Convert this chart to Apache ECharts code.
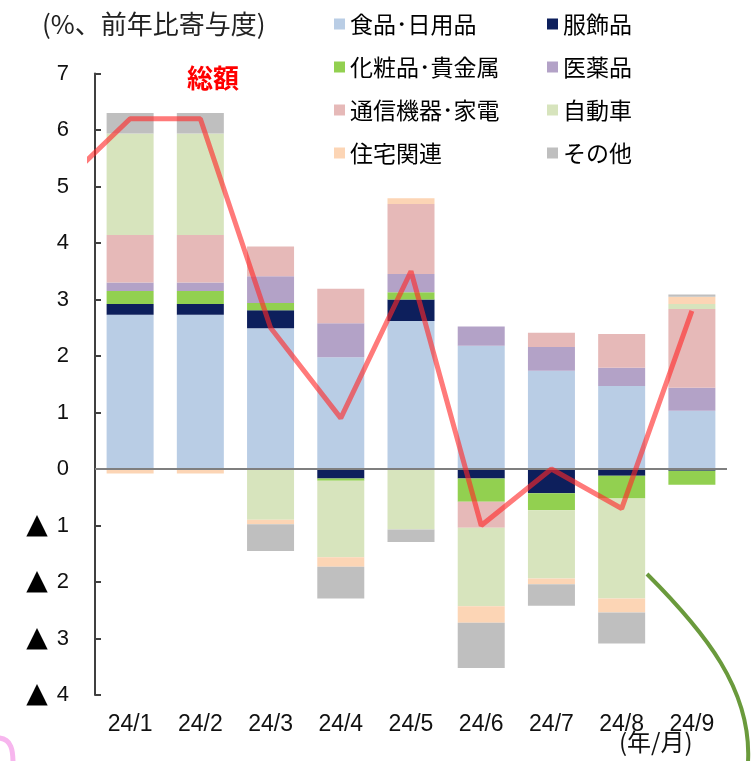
<!DOCTYPE html>
<html><head><meta charset="utf-8">
<script src="https://cdn.jsdelivr.net/npm/echarts@6/dist/echarts.min.js"></script>
<style>html,body{margin:0;padding:0;background:#fff}#c{width:756px;height:761px}</style>
</head><body><div id="c"></div>
<script>
// ---- data (percentage-point contributions, YoY) ----
const categories = ['24/1','24/2','24/3','24/4','24/5','24/6','24/7','24/8','24/9'];
const food      = [2.73, 2.73, 2.49, 1.98, 2.62, 2.18, 1.74, 1.47, 1.03];
const apparel   = [0.19, 0.19, 0.32, -0.17, 0.38, -0.17, -0.43, -0.12, -0.03];
const cosmetics = [0.23, 0.23, 0.13, -0.04, 0.13, -0.41, -0.30, -0.40, -0.25];
const medicine  = [0.15, 0.15, 0.47, 0.60, 0.32, 0.34, 0.42, 0.32, 0.41];
const telecom   = [0.84, 0.84, 0.53, 0.61, 1.24, -0.46, 0.25, 0.60, 1.39];
const autos     = [1.80, 1.80, -0.90, -1.35, -1.07, -1.39, -1.21, -1.77, 0.09];
const housing   = [-0.08, -0.08, -0.08, -0.17, 0.10, -0.29, -0.10, -0.25, 0.13];
const other     = [0.36, 0.36, -0.47, -0.56, -0.22, -0.80, -0.38, -0.55, 0.04];
const total     = [6.2, 6.2, 2.5, 0.9, 3.5, -1.0, 0.0, -0.7, 2.8];
const prevTotal = 5.0; // 23/12 (line enters from the left edge)
const seriesNames = ['食品･日用品','服飾品','化粧品･貴金属','医薬品','通信機器･家電','自動車','住宅関連','その他'];
const yMin = -4, yMax = 7, yStep = 1;

const colors = ['#B9CDE5','#0D1F5C','#92D050','#B3A2C7','#E6B9B8','#D7E4BD','#FCD5B5','#BFBFBF'];
const values = [food, apparel, cosmetics, medicine, telecom, autos, housing, other];

const chart = echarts.init(document.getElementById('c'), null, {renderer:'canvas'});
const gridLeft = 95, gridRight = 29, gridTop = 73.5, gridBottom = 66;
const catW = (756 - gridLeft - gridRight) / categories.length;
const lineLeft = 90;
const font = "'Liberation Sans','Noto Sans CJK JP',sans-serif";
const jfont = "'Noto Sans CJK JP',sans-serif";

const bars = seriesNames.map((n, k) => ({
  name: n, type: 'bar', stack: 'all', barWidth: 47,
  xAxisIndex: 0, yAxisIndex: 0,
  itemStyle: {color: colors[k]},
  data: values[k],
  z: 2
}));
bars[bars.length-1].markLine = {
  silent: true, symbol: ['none','none'], label: {show:false},
  lineStyle: {color:'#7f7f7f', width:2, type:'solid'},
  data: [{yAxis: 0}], z: 4
};

const lineData = [[-1, prevTotal]].concat(total.map((v,i)=>[i, v]));

const legendCommon = {
  orient: 'vertical', top: 7, itemWidth: 11, itemHeight: 11, itemGap: 19,
  icon: 'rect',
  textStyle: {fontSize: 23, lineHeight: 24, color:'#000', fontFamily: jfont}
};

chart.setOption({
  animation: false,
  backgroundColor: '#fff',
  title: {text: '(%、前年比寄与度)', left: 37, top: 6,
    textStyle: {fontSize: 26, fontWeight: 'normal', color:'#222', fontFamily: jfont}},
  legend: [
    Object.assign({}, legendCommon, {left: 329, data: [seriesNames[0], seriesNames[2], seriesNames[4], seriesNames[6]]}),
    Object.assign({}, legendCommon, {left: 542, data: [seriesNames[1], seriesNames[3], seriesNames[5], seriesNames[7]]})
  ],
  grid: [
    {left: gridLeft, right: gridRight, top: gridTop, bottom: gridBottom},
    {left: lineLeft, right: gridRight, top: gridTop, bottom: gridBottom}
  ],
  xAxis: [
    {type:'category', gridIndex:0, data: categories,
     axisLine:{show:false}, axisTick:{show:false},
     axisLabel:{fontSize: 23, margin: 18, color:'#111', fontFamily: font}},
    {type:'value', gridIndex:1, min: -0.5 - (gridLeft - lineLeft)/catW, max: categories.length - 0.5,
     show:false}
  ],
  yAxis: [
    {type:'value', gridIndex:0, min:yMin, max:yMax, interval:yStep,
     axisLine:{show:true, lineStyle:{color:'#404040', width:2}},
     axisTick:{show:true, inside:true, length:6, lineStyle:{color:'#404040', width:2}},
     splitLine:{show:false},
     axisLabel:{fontSize: 22, margin: 26, color:'#111', fontFamily: font,
       formatter: v => v < 0 ? '{t|▲}{s| }' + (-v) : String(v),
       rich: {
         t: {fontSize: 28, fontFamily: "'DejaVu Sans'", color:'#000'},
         s: {fontSize: 22, width: 9}
       }}},
    {type:'value', gridIndex:1, min:yMin, max:yMax, interval:yStep, show:false}
  ],
  series: bars.concat([{
    name: '総額', type: 'line', xAxisIndex: 1, yAxisIndex: 1,
    data: lineData, symbol: 'none', clip: true, z: 6,
    lineStyle: {color: 'rgba(255,40,40,0.62)', width: 5}
  }]),
  graphic: [
    {type:'text', left: 187, top: 65, z: 10,
     style:{text:'総額', fill:'#FF0000', font: "bold 26px 'Noto Sans CJK JP'"}},
    {type:'text', left: 619, top: 730, z: 10,
     style:{text:'(年/月)', fill:'#111', font: "24px 'Noto Sans CJK JP'"}},
    {type:'bezierCurve', z: 10,
     shape:{x1:647, y1:574, cpx1:705, cpy1:632, cpx2:752, cpy2:690, x2:748, y2:762},
     style:{stroke:'#6A9A3C', lineWidth:4, fill:null}},
    {type:'bezierCurve', z: 10,
     shape:{x1:-2, y1:738, cpx1:12, cpy1:738, cpx2:13, cpy2:752, x2:13, y2:763},
     style:{stroke:'#F7B6EE', lineWidth:5, fill:null}}
  ]
});
</script></body></html>
